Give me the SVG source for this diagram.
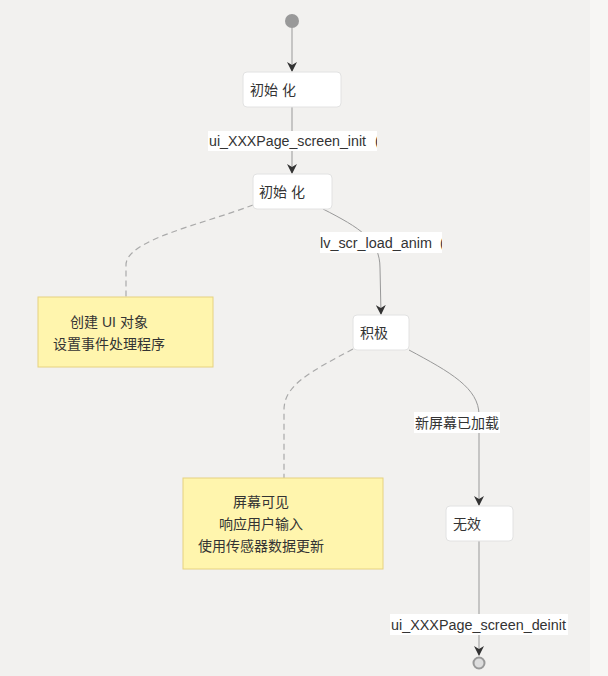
<svg xmlns="http://www.w3.org/2000/svg" width="608" height="676" viewBox="0 0 608 676">
<style>
.bg{fill:#f2f1ef}
.node rect{fill:#ffffff;stroke:#e2e2e2;stroke-width:1}
.t{font-family:"Liberation Sans","Noto Sans CJK SC",sans-serif;font-size:14px;fill:#333333}
.edge{fill:none;stroke:#999999;stroke-width:1}
.dash{fill:none;stroke:#aaaaaa;stroke-width:1.2;stroke-dasharray:6,4}
.note rect{fill:#fff5ad;stroke:#e6d280;stroke-width:1}
.lbl{fill:#ffffff}
</style>
<defs>
<marker id="arr" viewBox="0 0 10 10" refX="9" refY="5" markerWidth="10" markerHeight="10" orient="auto" markerUnits="userSpaceOnUse">
<path d="M0,0 L10,5 L0,10 L3,5 Z" fill="#333333"/>
</marker>
<clipPath id="c1"><rect x="208" y="131" width="169" height="20"/></clipPath>
<clipPath id="c2"><rect x="320" y="232" width="122" height="21"/></clipPath>
</defs>
<rect class="bg" x="0" y="0" width="608" height="676"/>
<rect x="590" y="0" width="18" height="676" fill="#f7f6f4"/>

<g id="connectors">
<path class="edge" d="M292,28 L292,71" marker-end="url(#arr)"/>
<path class="edge" d="M292,107 L292,173" marker-end="url(#arr)"/>
<path class="edge" d="M323,209 C360,228 380,240 380,268 L381,314" marker-end="url(#arr)"/>
<path class="edge" d="M409,350 C450,372 479,388 479,415 L479,505" marker-end="url(#arr)"/>
<path class="edge" d="M479,541 L479,655" marker-end="url(#arr)"/>
<path class="dash" d="M253,205 C200,225 126,240 126,265 L126,297"/>
<path class="dash" d="M353,349 C310,372 284,385 284,410 L284,478"/>
<rect class="lbl" x="208" y="131" width="169" height="20"/>
<text class="t" x="209" y="146" textLength="157" lengthAdjust="spacingAndGlyphs">ui_XXXPage_screen_init</text>
<text class="t" x="375" y="146" clip-path="url(#c1)">(</text>
<rect class="lbl" x="320" y="232" width="122" height="21"/>
<text class="t" x="320" y="248" textLength="112" lengthAdjust="spacingAndGlyphs">lv_scr_load_anim</text>
<text class="t" x="440" y="248" clip-path="url(#c2)">(</text>
<rect class="lbl" x="414" y="412" width="86" height="21"/>
<text class="t" x="415" y="428">新屏幕已加载</text>
<rect class="lbl" x="390" y="614" width="178" height="21"/>
<text class="t" x="391" y="630" textLength="175" lengthAdjust="spacingAndGlyphs">ui_XXXPage_screen_deinit</text>
</g>

<g id="start"><circle cx="292" cy="21" r="7" fill="#999999"/></g>
<g id="end"><circle cx="479" cy="663" r="5.5" fill="#dddddd" stroke="#999999" stroke-width="2"/></g>

<g id="init1" class="node"><rect x="243" y="72" width="98" height="35" rx="4"/><text class="t" x="250" y="95">初始 化</text></g>
<g id="init2" class="node"><rect x="253" y="174" width="79" height="35" rx="4"/><text class="t" x="259" y="197">初始 化</text></g>
<g id="active" class="node"><rect x="353" y="315" width="56" height="35" rx="4"/><text class="t" x="360" y="338">积极</text></g>
<g id="inactive" class="node"><rect x="446" y="506" width="67" height="35" rx="4"/><text class="t" x="453" y="529">无效</text></g>

<g id="note1" class="note"><rect x="38" y="297" width="175" height="70"/>
<text class="t" x="109" y="327" text-anchor="middle">创建 UI 对象</text>
<text class="t" x="109" y="349" text-anchor="middle">设置事件处理程序</text></g>
<g id="note2" class="note"><rect x="183" y="478" width="200" height="91"/>
<text class="t" x="261" y="507" text-anchor="middle">屏幕可见</text>
<text class="t" x="261" y="529" text-anchor="middle">响应用户输入</text>
<text class="t" x="261" y="551" text-anchor="middle">使用传感器数据更新</text></g>
</svg>
